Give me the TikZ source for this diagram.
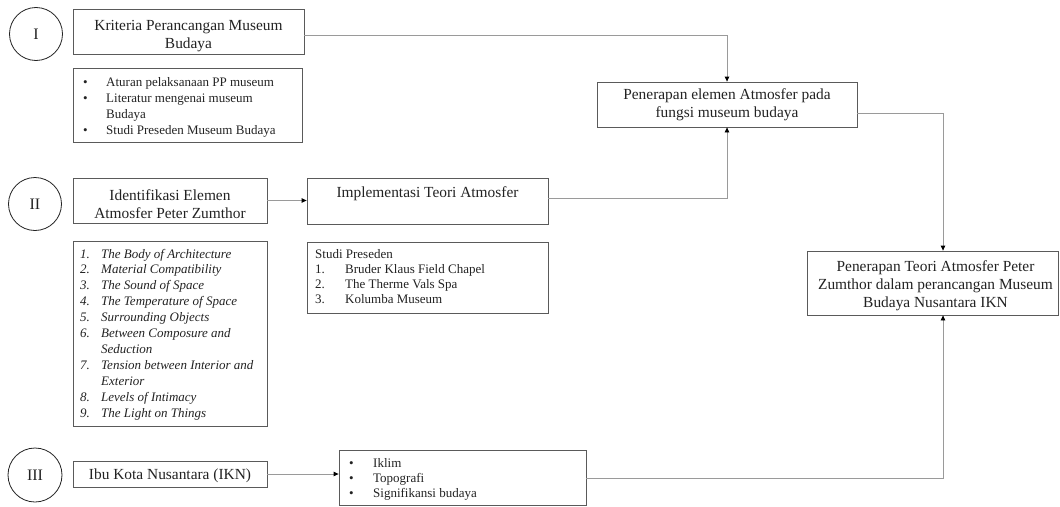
\documentclass[tikz,border=0pt]{standalone}
\usepackage{fontspec}
\setmainfont{Liberation Serif}
\usetikzlibrary{arrows.meta,calc}
\definecolor{boxc}{HTML}{5A5A5A}
\definecolor{linec}{HTML}{9A9A9A}
\definecolor{txt}{HTML}{222222}
\newcommand\mainfnt{\fontsize{15.4}{18}\selectfont}
\newcommand\listfnt[1]{\fontsize{13}{#1}\selectfont}
\begin{document}
\begin{tikzpicture}[x=1pt,y=-1pt,
  box/.style={draw=boxc, line width=0.8pt, inner sep=0pt},
  boxtxt/.style={inner sep=0pt, align=center, font=\mainfnt, text=txt},
  listbox/.style={draw=boxc, line width=0.8pt, inner sep=0pt},
  circ/.style={draw=txt, circle, line width=0.8pt, inner sep=0pt, font=\fontsize{16}{18}\selectfont, text=txt},
  listtxt/.style={anchor=base west, inner sep=0pt, text=txt},
  conn/.style={draw=linec, line width=0.8pt},
  arr/.style={conn, -{Triangle[length=5pt,width=4.5pt,fill=black,color=black]}}]
\useasboundingbox (0,0) rectangle (1060,506);

% circles
\node[circ, minimum size=53] (c1) at (36,34) {I};
\node[circ, minimum size=53] (c2) at (35,204) {II};
\node[circ, minimum size=54] (c3) at (35,475) {III};

% main boxes
\node[box, minimum width=231, minimum height=45] (krit) at (188.5,31.5) {};
\node[boxtxt] (kritT) at ($(krit.center)+(0,4.5)$) {Kriteria Perancangan Museum\\Budaya};
\node[box, minimum width=194, minimum height=45] (ident) at (170,200.5) {};
\node[boxtxt] (identT) at ($(ident.center)+(0,3.5)$) {Identifikasi Elemen\\Atmosfer Peter Zumthor};
\node[box, minimum width=241, minimum height=46] (impl) at (427.5,201) {};
\node[boxtxt] (implT) at ($(impl.center)+(0,-7)$) {Implementasi Teori Atmosfer};
\node[box, minimum width=260, minimum height=45] (pen) at (727,104.5) {};
\node[boxtxt] (penT) at ($(pen.center)+(0,0)$) {Penerapan elemen Atmosfer pada\\fungsi museum budaya};
\node[box, minimum width=251, minimum height=64] (final) at (932.5,283) {};
\node[boxtxt] (finalT) at ($(final.center)+(3,2.5)$) {Penerapan Teori Atmosfer Peter\\Zumthor dalam perancangan Museum\\Budaya Nusantara IKN};
\node[box, minimum width=194, minimum height=26] (ibu) at (170,474) {};
\node[boxtxt] (ibuT) at ($(ibu.center)+(0,2)$) {Ibu Kota Nusantara (IKN)};

% list boxes
\node[listbox, minimum width=229, minimum height=74] (l1) at (187.5,105) {};
\node[listbox, minimum width=194, minimum height=185] (l2) at (170,333.5) {};
\node[listbox, minimum width=241, minimum height=71] (l3) at (427.5,277.5) {};
\node[listbox, minimum width=247, minimum height=55] (l4) at (462.5,477.5) {};

% list texts
\node[listtxt] (t1) at (83,86.5) {\listfnt{16}\begin{tabular}[t]{@{}p{23pt}@{}l@{}}
•& Aturan pelaksanaan PP museum\\
•& Literatur mengenai museum\\
 & Budaya\\
•& Studi Preseden Museum Budaya
\end{tabular}};
\node[listtxt] (t2) at (80,258) {\listfnt{15.9}\itshape\begin{tabular}[t]{@{}p{21pt}@{}l@{}}
1.& The Body of Architecture\\
2.& Material Compatibility\\
3.& The Sound of Space\\
4.& The Temperature of Space\\
5.& Surrounding Objects\\
6.& Between Composure and\\
  & Seduction\\
7.& Tension between Interior and\\
  & Exterior\\
8.& Levels of Intimacy\\
9.& The Light on Things
\end{tabular}};
\node[listtxt] (t3) at (315,258) {\listfnt{15}\begin{tabular}[t]{@{}p{30pt}@{}l@{}}
\multicolumn{2}{@{}l@{}}{Studi Preseden}\\
1.& Bruder Klaus Field Chapel\\
2.& The Therme Vals Spa\\
3.& Kolumba Museum
\end{tabular}};
\node[listtxt] (t4) at (349,467) {\listfnt{15}\begin{tabular}[t]{@{}p{24pt}@{}l@{}}
•& Iklim\\
•& Topografi\\
•& Signifikansi budaya
\end{tabular}};

% connectors
\draw[arr] ([yshift=-3.5pt]krit.east) -| (pen.north);
\draw[arr] ([yshift=3pt]impl.east) -| (pen.south);
\draw[arr] (ident.east) -- (ident.east -| impl.west);
\draw[arr] ([yshift=-8.5pt]pen.east) -| ([xshift=10.5pt]final.north);
\draw[arr] ([yshift=-0.5pt]l4.east) -| ([xshift=10.5pt]final.south);
\draw[arr] (ibu.east) -- (ibu.east -| l4.west);
\end{tikzpicture}
\end{document}
